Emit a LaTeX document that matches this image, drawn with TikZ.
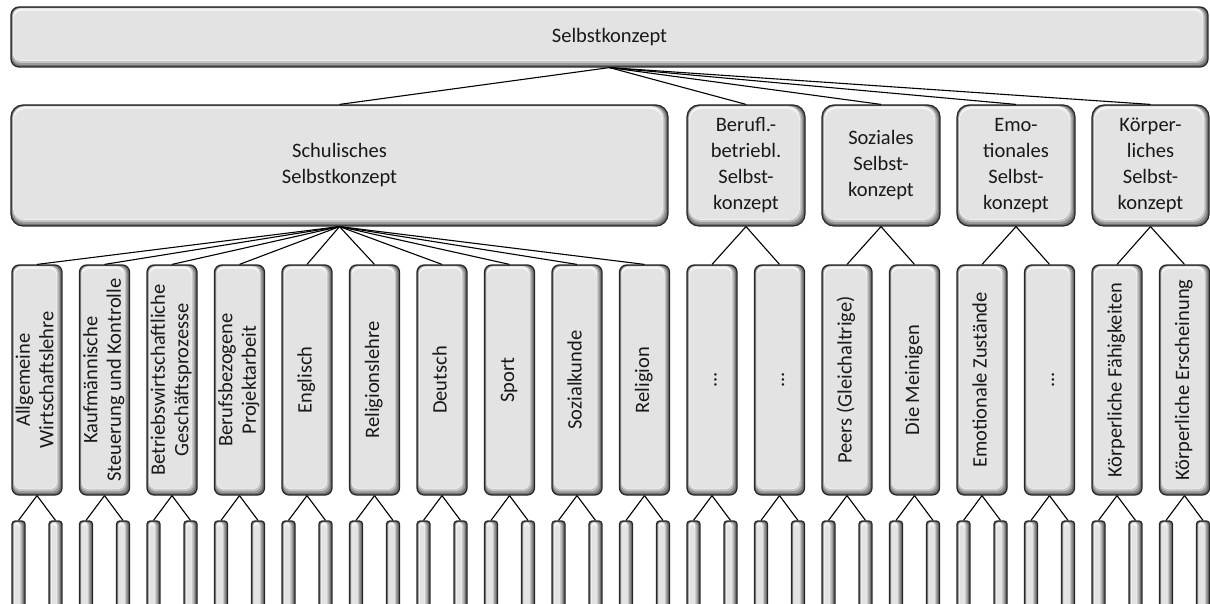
\documentclass[tikz,border=0pt]{standalone}
\usepackage{fontspec}
\setmainfont{Carlito}
\definecolor{bevA}{HTML}{6E6E6E}
\definecolor{bevB}{HTML}{9A9A9A}
\definecolor{bevC}{HTML}{C6C6C6}
\definecolor{bevD}{HTML}{F4F4F4}
\definecolor{bevE}{HTML}{E3E3E3}
\newcommand\bevlayer[6]{\fill[#1, rounded corners=#6] ([xshift=#2pt,yshift=-#3pt]path picture bounding box.north west) rectangle ([xshift=-#4pt,yshift=#5pt]path picture bounding box.south east);}
\tikzset{
  bev/.style={draw=black!85, line width=1.2pt, rounded corners=#1, inner sep=0pt,
    text=black!90, align=center,
    path picture={
      \fill[bevA] (path picture bounding box.south west) rectangle (path picture bounding box.north east);
      \bevlayer{bevB}{1}{1}{2}{2}{#1}
      \bevlayer{bevC}{1.5}{1.2}{3.5}{4}{#1}
      \bevlayer{bevD}{2}{1.4}{5}{6}{#1}
      \bevlayer{bevE}{2.5}{4}{5.5}{6.5}{#1}
    }},
  lvlone/.style={bev=8pt, minimum width=1197pt, minimum height=60pt},
  lvltwo/.style={bev=12pt, minimum height=121pt, font=\fontsize{20.5}{26}\selectfont},
  lvlthree/.style={bev=7pt, minimum width=50pt, minimum height=230pt, font=\fontsize{20.5}{23.5}\selectfont},
  bar/.style={bev=3pt, minimum width=13pt, minimum height=100pt},
  link/.style={draw=black, line width=1.1pt},
}
\begin{document}
\begin{tikzpicture}[x=1pt,y=-1pt]
\useasboundingbox (0,0) rectangle (1210,604);
\clip (0,0) rectangle (1210,604);
\fontsize{20.5}{24.5}\selectfont
\node[lvlone] (top) at (609.5,37) {Selbstkonzept};

\node[lvltwo, minimum width=657pt] (schul) at (339.5,165.5) {Schulisches\\Selbstkonzept};
\node[lvltwo, minimum width=118pt] (beruf) at (746,165.5) {Berufl.-\\betriebl.\\Selbst-\\konzept};
\node[lvltwo, minimum width=118pt] (sozial) at (881,165.5) {Soziales\\Selbst-\\konzept};
\node[lvltwo, minimum width=118pt] (emo) at (1016,165.5) {Emo-\\tionales\\Selbst-\\konzept};
\node[lvltwo, minimum width=117pt] (koerper) at (1150.5,165.5) {Körper-\\liches\\Selbst-\\konzept};

\foreach \n in {schul,beruf,sozial,emo,koerper}
  \draw[link] (top.south) -- (\n.north);

\foreach \i/\t in {0/{Allgemeine\\Wirtschaftslehre},1/{Kaufmännische\\Steuerung und Kontrolle},2/{Betriebswirtschaftliche\\Geschäftsprozesse},3/{Berufsbezogene\\Projektarbeit},4/{Englisch},5/{Religionslehre},6/{Deutsch},7/{Sport},8/{Sozialkunde},9/{Religion},10/{...},11/{...},12/{Peers (Gleichaltrige)},13/{Die Meinigen},14/{Emotionale Zustände},15/{...},16/{Körperliche Fähigkeiten},17/{Körperliche Erscheinung}}{
  \node[lvlthree] (c\i) at ({37+67.5*\i},380) {\rotatebox{90}{\begin{tabular}{@{}c@{}}\t\end{tabular}}};
  \node[bar] (bl\i) at ({18.5+67.5*\i},571) {};
  \node[bar] (br\i) at ({55.5+67.5*\i},571) {};
  \draw[link] (c\i.south) -- (bl\i.north);
  \draw[link] (c\i.south) -- (br\i.north);
}
\foreach \i in {0,...,9}
  \draw[link] (schul.south) -- (c\i.north);
\draw[link] (beruf.south) -- (c10.north);
\draw[link] (beruf.south) -- (c11.north);
\draw[link] (sozial.south) -- (c12.north);
\draw[link] (sozial.south) -- (c13.north);
\draw[link] (emo.south) -- (c14.north);
\draw[link] (emo.south) -- (c15.north);
\draw[link] (koerper.south) -- (c16.north);
\draw[link] (koerper.south) -- (c17.north);
\end{tikzpicture}
\end{document}
